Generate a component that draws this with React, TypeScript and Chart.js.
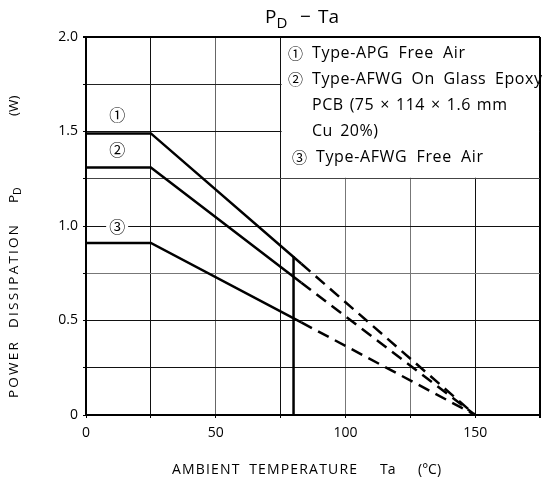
import React, { useEffect, useRef } from "react";
import { Chart, registerables } from "chart.js";

Chart.register(...registerables);

// ---- data ----
const temps = [0, 25, 83, 150]; // Ta (°C): flat until 25, solid to 83, dashed to 150
const pdApgFreeAir = [1.49, 1.49, 0.8, 0];
const pdAfwgGlassEpoxy = [1.31, 1.31, 0.7, 0];
const pdAfwgFreeAir = [0.91, 0.91, 0.49, 0];
const solidEnd = 2; // index where solid part ends and dashed part begins

const markerTemps = [80, 80];
const markerPd = [0, 0.84];

const xTickLabels = [0, 50, 100, 150];
const yTickLabels = [0, 0.5, 1.0, 1.5, 2.0];

const legendLines = [
  { sym: "①", text: "Type-APG Free Air" },
  { sym: "②", text: "Type-AFWG On Glass Epoxy" },
  { sym: "", text: "PCB (75 × 114 × 1.6 mm" },
  { sym: "", text: "Cu 20%)" },
  { sym: "③", text: "Type-AFWG Free Air" },
];

const curveLabels = ["①", "②", "③"];
const curveLabelPos = [
  { x: 12, y: 1.59 },
  { x: 12, y: 1.4 },
  { x: 12, y: 0.995 },
];

const FONT = '"Open Sans", "DejaVu Sans", sans-serif';
const SYMFONT = '"Noto Sans CJK JP", "DejaVu Sans", sans-serif';

function pts(xs: number[], ys: number[]) {
  return xs.map((x, i) => ({ x, y: ys[i] }));
}

function curveDatasets(ys: number[]) {
  return [
    {
      data: pts(temps.slice(0, solidEnd + 1), ys.slice(0, solidEnd + 1)),
      borderColor: "#000",
      borderWidth: 2.5,
      pointRadius: 0,
      fill: false,
    },
    {
      data: pts(temps.slice(solidEnd), ys.slice(solidEnd)),
      borderColor: "#000",
      borderWidth: 2.5,
      borderDash: [12, 7],
      pointRadius: 0,
      fill: false,
    },
  ];
}

const xGridColor: Record<number, string> = {
  0: "#000", 25: "#111", 50: "#666", 75: "#111", 100: "#777", 125: "#777", 150: "#111", 175: "#000",
};
const yGridColor: Record<string, string> = {
  "0": "#000", "0.25": "#111", "0.5": "#111", "0.75": "#777", "1": "#111", "1.25": "#444", "1.5": "#111", "1.75": "#222", "2": "#000",
};

// stretch text to a width: part letter spacing, part word spacing
function fitText(ctx: CanvasRenderingContext2D, text: string, x: number, y: number, target: number, letterShare = 0.6) {
  const c = ctx as any;
  c.letterSpacing = "0px";
  c.wordSpacing = "0px";
  const w = ctx.measureText(text).width;
  const spaces = (text.match(/ /g) || []).length;
  const extra = target - w;
  const share = spaces > 0 ? letterShare : 1;
  if (text.length > 1) c.letterSpacing = (extra * share) / (text.length - 1) + "px";
  if (spaces > 0) c.wordSpacing = (extra * (1 - share)) / spaces + "px";
  ctx.fillText(text, x, y);
  c.letterSpacing = "0px";
  c.wordSpacing = "0px";
}

const overlayPlugin = {
  id: "overlay",
  beforeDatasetsDraw(chart: any) {
    const { ctx, chartArea, scales } = chart;
    const x = scales.x, y = scales.y;
    ctx.save();
    ctx.fillStyle = "#fff";
    const l = x.getPixelForValue(75) + 1;
    const b = y.getPixelForValue(1.25) - 1;
    ctx.fillRect(l, chartArea.top + 1, chartArea.right - 1 - l, b - chartArea.top - 1);
    ctx.restore();
  },
  afterDatasetsDraw(chart: any) {
    const { ctx, scales } = chart;
    const x = scales.x, y = scales.y;
    ctx.save();
    ctx.fillStyle = "#000";

    // curve labels
    ctx.font = `16px ${SYMFONT}`;
    ctx.textAlign = "center";
    ctx.textBaseline = "middle";
    curveLabels.forEach((s, i) => {
      const cx = x.getPixelForValue(curveLabelPos[i].x);
      const cy = y.getPixelForValue(curveLabelPos[i].y);
      ctx.fillStyle = "#fff";
      ctx.fillRect(cx - 11, cy - 8, 22, 16);
      ctx.fillStyle = "#000";
      ctx.fillText(s, cx, cy);
    });

    // legend text
    ctx.textAlign = "left";
    const rows = [53, 79, 105, 131, 157];
    const symX = [288, 288, 0, 0, 292];
    const txtX = [312, 312, 312, 312, 316];
    const txtW = [153, 230, 195, 66, 167];
    legendLines.forEach((ln, i) => {
      if (ln.sym) {
        ctx.font = `15px ${SYMFONT}`;
        ctx.fillText(ln.sym, symX[i], rows[i]);
      }
      ctx.font = `16px ${FONT}`;
      fitText(ctx, ln.text, txtX[i], rows[i], txtW[i], 0.55);
    });

    // title  P_D − Ta
    ctx.textBaseline = "alphabetic";
    ctx.font = `19px ${FONT}`;
    ctx.fillText("P", 265, 23);
    const pw = ctx.measureText("P").width;
    ctx.font = `15px ${FONT}`;
    ctx.fillText("D", 265 + pw, 28);
    ctx.font = `19px ${FONT}`;
    ctx.fillText("−", 300, 23);
    ctx.fillText("Ta", 318, 23);

    // x axis title
    ctx.font = `14px ${FONT}`;
    ctx.textBaseline = "middle";
    fitText(ctx, "AMBIENT TEMPERATURE", 172, 470, 185, 0.85);
    ctx.fillText("Ta", 380, 470);
    ctx.fillText("(°C)", 418, 470);

    // y axis title (rotated)
    ctx.save();
    ctx.translate(14, 0);
    ctx.rotate(-Math.PI / 2);
    ctx.textAlign = "left";
    ctx.font = `13.5px ${FONT}`;
    fitText(ctx, "POWER DISSIPATION", -398, 0, 173, 0.85);
    ctx.fillText("P", -203, 0);
    const pw2 = ctx.measureText("P").width;
    ctx.font = `10.5px ${FONT}`;
    ctx.fillText("D", -203 + pw2, 4);
    ctx.font = `13.5px ${FONT}`;
    ctx.fillText("(W)", -116, 0);
    ctx.restore();

    ctx.restore();
  },
};

export default function App() {
  const ref = useRef<HTMLCanvasElement>(null);
  useEffect(() => {
    if (!ref.current) return;
    Chart.defaults.font.family = FONT;
    const datasets: any[] = [
      ...curveDatasets(pdApgFreeAir),
      ...curveDatasets(pdAfwgGlassEpoxy),
      ...curveDatasets(pdAfwgFreeAir),
      {
        data: pts(markerTemps, markerPd),
        borderColor: "#000",
        borderWidth: 2.5,
        pointRadius: 0,
        fill: false,
      },
    ];
    const chart = new Chart(ref.current, {
      type: "line",
      data: { datasets },
      options: {
        animation: false,
        responsive: false,
        events: [],
        layout: { padding: { left: 0, right: 4, top: 37, bottom: 0 } },
        plugins: { legend: { display: false }, tooltip: { enabled: false }, title: { display: false } },
        scales: {
          x: {
            type: "linear",
            min: 0,
            max: 175,
            afterFit: (s: any) => { s.height = 69; },
            ticks: {
              stepSize: 25,
              color: "#000",
              font: { size: 14, family: FONT },
              padding: 7,
              maxRotation: 0,
              autoSkip: false,
              callback: (v: any) => (xTickLabels.includes(Number(v)) ? String(v) : ""),
            },
            grid: {
              color: (c: any) => xGridColor[c.tick?.value] ?? "#333",
              lineWidth: (c: any) => (c.tick?.value === 175 ? 2 : 1),
              tickLength: 3,
              tickColor: "#000",
            },
            border: { display: true, color: "#000", width: 2 },
          },
          y: {
            type: "linear",
            min: 0,
            max: 2,
            afterFit: (s: any) => { s.width = 86; },
            ticks: {
              stepSize: 0.25,
              color: "#000",
              font: { size: 14, family: FONT },
              padding: 5,
              autoSkip: false,
              callback: (v: any) => {
                const n = Number(v);
                const hit = yTickLabels.find((t) => Math.abs(t - n) < 1e-6);
                if (hit === undefined) return "";
                return hit === 0 ? "0" : hit.toFixed(1);
              },
            },
            grid: {
              color: (c: any) => yGridColor[String(c.tick?.value)] ?? "#333",
              lineWidth: (c: any) => (c.tick?.value === 2 ? 2 : 1),
              tickLength: 3,
              tickColor: "#000",
            },
            border: { display: true, color: "#000", width: 2 },
          },
        },
      },
      plugins: [overlayPlugin],
    });
    return () => chart.destroy();
  }, []);
  return (
    <canvas
      ref={ref}
      width={547}
      height={484}
      style={{ position: "absolute", left: 0, top: 0, width: 547, height: 484, background: "#fff" }}
    />
  );
}
